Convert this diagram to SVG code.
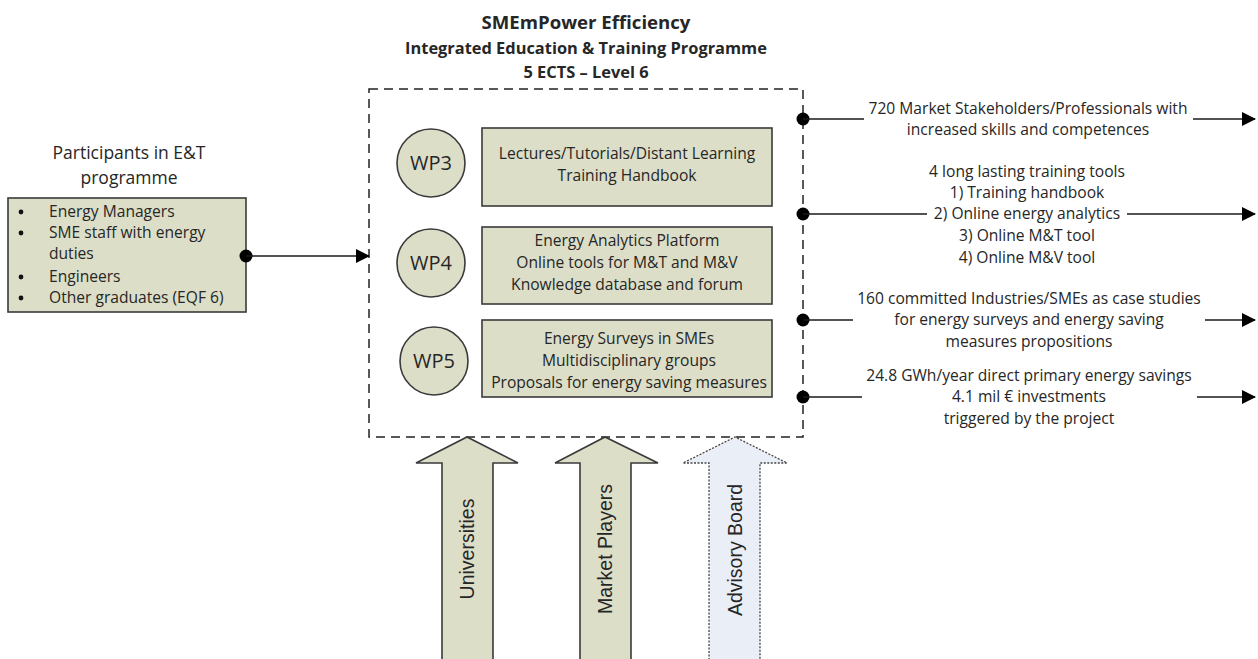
<svg xmlns="http://www.w3.org/2000/svg" width="1258" height="659" viewBox="0 0 1258 659">
<defs>
<style>
.t{font-family:"Open Sans","Liberation Sans",sans-serif;fill:#262626;}
.box{fill:#dcdec8;stroke:#3a3a3a;stroke-width:1.6;}
.c{font-size:15.6px;text-anchor:middle;}
.ln{stroke:#1a1a1a;stroke-width:1.5;fill:none;}
.arw{font-family:"Liberation Sans",Arial,sans-serif;font-size:19.5px;fill:#262626;text-anchor:middle;}
</style>
<marker id="ah2" markerWidth="14" markerHeight="14" refX="13" refY="7" orient="auto" markerUnits="userSpaceOnUse" viewBox="0 0 14 14">
<path d="M0,0 L14,7 L0,14 z" fill="#000"/>
</marker>
</defs>
<rect width="1258" height="659" fill="#fff"/>

<g id="title" class="t" text-anchor="middle" font-weight="bold">
<text x="586" y="29" font-size="18.6">SMEmPower Efficiency</text>
<text x="586" y="54" font-size="16.4">Integrated Education &amp; Training Programme</text>
<text x="586" y="78" font-size="16.4">5 ECTS – Level 6</text>
</g>

<g id="programme">
<rect x="369" y="89" width="434" height="348" fill="none" stroke="#222" stroke-width="1.5" stroke-dasharray="9,6"/>
</g>

<g id="participants">
<text class="t" x="129" y="159" font-size="17.5" text-anchor="middle">Participants in E&amp;T</text>
<text class="t" x="129" y="184" font-size="17.5" text-anchor="middle">programme</text>
<rect class="box" x="8" y="198" width="238" height="114"/>
<g class="t" font-size="15.6">
<circle cx="21" cy="212" r="2.4" fill="#111"/><text x="49" y="217">Energy Managers</text>
<circle cx="21" cy="233" r="2.4" fill="#111"/><text x="49" y="238">SME staff with energy</text>
<text x="49" y="259">duties</text>
<circle cx="21" cy="277" r="2.4" fill="#111"/><text x="49" y="282">Engineers</text>
<circle cx="21" cy="298" r="2.4" fill="#111"/><text x="49" y="303">Other graduates (EQF 6)</text>
</g>
</g>

<g id="wp3">
<circle class="box" cx="431" cy="163" r="34"/>
<text class="t" x="431" y="170" font-size="20" text-anchor="middle">WP3</text>
<rect class="box" x="482" y="128" width="290" height="78"/>
<text class="t c" x="627" y="159">Lectures/Tutorials/Distant Learning</text>
<text class="t c" x="627" y="181">Training Handbook</text>
</g>

<g id="wp4">
<circle class="box" cx="431" cy="263" r="34"/>
<text class="t" x="431" y="270" font-size="20" text-anchor="middle">WP4</text>
<rect class="box" x="482" y="227" width="290" height="77"/>
<text class="t c" x="627" y="246">Energy Analytics Platform</text>
<text class="t c" x="627" y="268">Online tools for M&amp;T and M&amp;V</text>
<text class="t c" x="627" y="290">Knowledge database and forum</text>
</g>

<g id="wp5">
<circle class="box" cx="434" cy="361" r="34"/>
<text class="t" x="434" y="368" font-size="20" text-anchor="middle">WP5</text>
<rect class="box" x="482" y="320" width="290" height="77"/>
<text class="t c" x="629" y="344">Energy Surveys in SMEs</text>
<text class="t c" x="629" y="366">Multidisciplinary groups</text>
<text class="t c" x="629" y="388">Proposals for energy saving measures</text>
</g>

<g id="outputs" class="t c">
<text x="1028" y="114">720 Market Stakeholders/Professionals with</text>
<text x="1028" y="135">increased skills and competences</text>
<text x="1027" y="177">4 long lasting training tools</text>
<text x="1027" y="198">1) Training handbook</text>
<text x="1027" y="219">2) Online energy analytics</text>
<text x="1027" y="241">3) Online M&amp;T tool</text>
<text x="1027" y="263">4) Online M&amp;V tool</text>
<text x="1029" y="304">160 committed Industries/SMEs as case studies</text>
<text x="1029" y="325">for energy surveys and energy saving</text>
<text x="1029" y="347">measures propositions</text>
<text x="1029" y="381">24.8 GWh/year direct primary energy savings</text>
<text x="1029" y="402">4.1 mil € investments</text>
<text x="1029" y="424">triggered by the project</text>
</g>

<g id="connectors">
<circle cx="246" cy="256" r="6.5" fill="#000"/>
<line class="ln" x1="246" y1="256" x2="369" y2="256" marker-end="url(#ah2)"/>
<circle cx="803" cy="119" r="6.5" fill="#000"/>
<line class="ln" x1="803" y1="119" x2="864" y2="119"/>
<line class="ln" x1="1193" y1="119" x2="1255" y2="119" marker-end="url(#ah2)"/>
<circle cx="803" cy="214" r="6.5" fill="#000"/>
<line class="ln" x1="803" y1="214" x2="927" y2="214"/>
<line class="ln" x1="1127" y1="214" x2="1255" y2="214" marker-end="url(#ah2)"/>
<circle cx="803" cy="320" r="6.5" fill="#000"/>
<line class="ln" x1="803" y1="320" x2="853" y2="320"/>
<line class="ln" x1="1205" y1="320" x2="1255" y2="320" marker-end="url(#ah2)"/>
<circle cx="803" cy="397" r="6.5" fill="#000"/>
<line class="ln" x1="803" y1="397" x2="862" y2="397"/>
<line class="ln" x1="1197" y1="397" x2="1255" y2="397" marker-end="url(#ah2)"/>
</g>

<g id="universities">
<path class="box" d="M442,660 L442,463 L416,463 L467,437 L518,463 L493,463 L493,660"/>
<text class="arw" transform="translate(474,549) rotate(-90)">Universities</text>
</g>
<g id="market-players">
<path class="box" d="M580,660 L580,463 L555,463 L605,437 L658,463 L631,463 L631,660"/>
<text class="arw" transform="translate(612,549) rotate(-90)">Market Players</text>
</g>
<g id="advisory-board">
<path d="M709,660 L709,463 L683,463 L735,437 L787,463 L760,463 L760,660" fill="#e9eef7" stroke="#444" stroke-width="1.3" stroke-dasharray="2,1.5"/>
<text class="arw" transform="translate(742,550) rotate(-90)">Advisory Board</text>
</g>
</svg>
